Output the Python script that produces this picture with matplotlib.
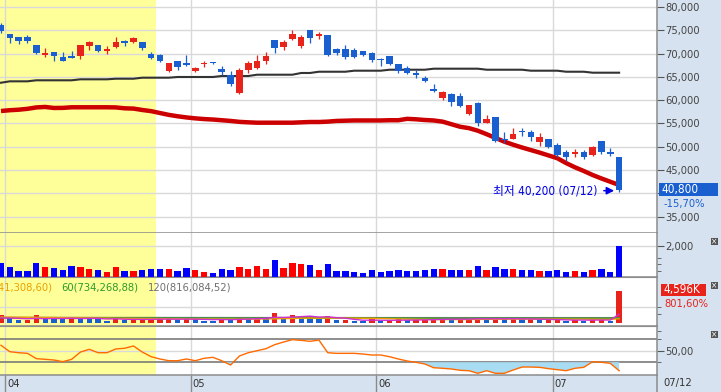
import numpy as np
import matplotlib
matplotlib.use("Agg")
import matplotlib.pyplot as plt
from matplotlib.patches import Rectangle
from matplotlib.lines import Line2D
from matplotlib import font_manager as fm

# pick a narrow font for digits if one is installed
_fl = fm.fontManager.ttflist
if any(f.name == 'Liberation Sans Narrow' for f in _fl):
    NUMFAM, NUMSTRETCH, FS = 'Liberation Sans Narrow', 'normal', 9.0
elif any(f.name == 'DejaVu Sans' and str(f.stretch).lower() in ('condensed', 'semi-condensed') for f in _fl):
    NUMFAM, NUMSTRETCH, FS = 'DejaVu Sans', 'condensed', 8.0
else:
    NUMFAM, NUMSTRETCH, FS = 'Roboto', 'normal', 8.0

plt.rcParams['font.family'] = [NUMFAM, 'Noto Sans CJK KR', 'DejaVu Sans']
plt.rcParams['font.stretch'] = NUMSTRETCH

# ---------------- data ----------------
opens = [76100, 74200, 73500, 73550, 71850, 69700, 70350, 69250, 69500, 69550,
         71650, 71850, 70500, 71400, 72700, 72500, 72500, 69900, 69700, 66270,
         68400, 67980, 66270, 67700, 68100, 66700, 65410, 61610, 66480, 66910,
         68400, 72920, 71420, 73130, 71630, 75060, 73800, 73990, 70990, 70990,
         70770, 70560, 70130, 68850, 69480, 67770, 66910, 65900, 64760, 62340,
         60410, 61330, 60900, 57040, 59330, 55170, 56460, 51670, 51740, 53400,
         53250, 51100, 51600, 50450, 48810, 48390, 48950, 48170, 51170, 48950,
         47880]
highs = [76500, 74200, 73500, 74000, 71850, 71150, 70450, 70350, 70550, 71850,
         72700, 71850, 71650, 73550, 72900, 73550, 72500, 70350, 69900, 67980,
         68400, 69700, 67120, 68480, 68200, 67330, 66270, 66910, 68400, 69700,
         70340, 72920, 72920, 75060, 73990, 75060, 74650, 73990, 71200, 71850,
         71200, 70560, 70340, 69050, 69480, 67770, 67340, 66400, 65190, 63480,
         62060, 61540, 61470, 59000, 59550, 56820, 56460, 53180, 54040, 54040,
         53600, 52900, 51700, 50750, 49300, 49490, 49400, 50170, 51310, 49680,
         47880]
lows = [74400, 72200, 72050, 72200, 69900, 69350, 68500, 68350, 68950, 68850,
        70750, 70340, 69900, 71200, 71650, 72300, 70800, 68850, 68200, 66050,
        66480, 67350, 66050, 67120, 67700, 65400, 63050, 61330, 65840, 66700,
        67770, 70130, 70770, 72920, 71200, 72270, 73130, 69480, 69700, 68840,
        69050, 69480, 68200, 67340, 67550, 65900, 65620, 64760, 63980, 61820,
        60040, 58750, 58610, 56820, 54530, 55040, 51100, 50880, 51600, 52320,
        51310, 50240, 49800, 47740, 47020, 47900, 47380, 48090, 48380, 48020,
        40200]
closes = [74900, 73400, 72700, 72700, 70200, 70100, 69550, 68400, 69050, 71850,
          72500, 70600, 71000, 72500, 72300, 73350, 71200, 69050, 68400, 67980,
          67120, 67550, 66900, 67900, 67900, 66050, 63540, 66480, 67980, 68400,
          69480, 71200, 72490, 74210, 73560, 73350, 74100, 69700, 70130, 69270,
          69270, 69700, 68630, 68600, 67770, 66330, 65900, 65470, 64190, 61900,
          61820, 59680, 58750, 58970, 55040, 56030, 51310, 51390, 52680, 53100,
          52040, 52040, 49890, 48300, 47880, 48950, 47740, 50020, 48810, 48390,
          40800]

ma_long = [63750, 64050, 64050, 64050, 64270, 64270, 64270, 64270, 64270, 64480,
           64480, 64480, 64480, 64610, 64610, 64610, 64830, 64830, 64830, 64830,
           64980, 64980, 64980, 64980, 64980, 65190, 65190, 65190, 65190, 65470,
           65470, 65470, 65470, 65470, 65840, 65840, 66110, 66110, 66110, 66110,
           66330, 66330, 66330, 66330, 66540, 66540, 66540, 66540, 66540, 66760,
           66760, 66760, 66760, 66760, 66760, 66540, 66540, 66540, 66540, 66540,
           66330, 66330, 66330, 66330, 66110, 66110, 66110, 65900, 65900, 65900,
           65900]
ma_mid = [57680, 57850, 57960, 58150, 58450, 58550, 58330, 58350, 58480, 58480,
          58480, 58480, 58480, 58450, 58260, 58200, 57900, 57650, 57250, 56850,
          56550, 56300, 56100, 55950, 55850, 55700, 55550, 55350, 55250, 55170,
          55170, 55170, 55170, 55170, 55250, 55320, 55320, 55400, 55550, 55600,
          55650, 55650, 55650, 55650, 55700, 55700, 56000, 55900, 55750, 55650,
          55400, 54850, 54300, 54000, 53450, 52700, 51900, 51100, 50450, 49850,
          49300, 48750, 48150, 47550, 46500, 45600, 44800, 43950, 43200, 42500,
          41800]

volume = [884, 626, 368, 368, 884, 626, 561, 432, 690, 626,
          497, 432, 303, 626, 368, 368, 432, 497, 497, 497,
          368, 561, 432, 303, 239, 497, 432, 626, 497, 690,
          497, 1077, 561, 884, 819, 755, 432, 819, 368, 368,
          303, 239, 432, 303, 368, 432, 368, 368, 432, 497,
          497, 432, 432, 432, 690, 432, 626, 497, 497, 432,
          432, 368, 368, 432, 303, 368, 303, 432, 497, 303,
          2000]

vol_k = [1150, 810, 480, 480, 1150, 810, 730, 560, 900, 810,
         650, 560, 390, 810, 480, 480, 560, 650, 650, 650,
         480, 730, 560, 390, 310, 650, 560, 810, 650, 900,
         650, 1400, 730, 1150, 1060, 980, 560, 1060, 480, 480,
         390, 310, 560, 390, 480, 560, 480, 480, 560, 650,
         650, 560, 560, 560, 900, 560, 810, 650, 650, 560,
         560, 480, 480, 560, 390, 480, 390, 560, 650, 390,
         4596]
ma5_k = [760, 740, 700, 650, 700, 660, 690, 680, 720, 680,
         700, 700, 620, 640, 580, 560, 560, 560, 590, 600,
         580, 600, 590, 560, 520, 540, 520, 560, 600, 660,
         700, 850, 830, 890, 950, 1020, 890, 920, 800, 720,
         560, 440, 450, 430, 420, 440, 450, 470, 490, 520,
         560, 580, 590, 590, 640, 630, 650, 640, 650, 640,
         620, 580, 560, 530, 490, 460, 460, 450, 470, 460,
         1300]
ma20_k = [880, 870, 860, 850, 840, 830, 820, 800, 790, 780,
          770, 750, 730, 710, 700, 690, 680, 670, 660, 650,
          640, 630, 620, 610, 600, 600, 590, 590, 600, 610,
          620, 640, 660, 690, 720, 740, 740, 750, 750, 740,
          730, 720, 700, 680, 650, 620, 600, 580, 560, 540,
          530, 530, 530, 540, 550, 560, 570, 580, 590, 590,
          590, 590, 600, 600, 600, 590, 590, 580, 570, 560,
          641]
ma60_k = [790, 788, 786, 784, 782, 780, 778, 776, 774, 772,
          770, 768, 766, 764, 762, 760, 758, 756, 754, 752,
          750, 748, 746, 744, 742, 740, 738, 736, 736, 736,
          738, 740, 742, 744, 746, 748, 748, 748, 746, 744,
          742, 740, 738, 736, 734, 732, 730, 728, 726, 724,
          722, 720, 720, 720, 720, 720, 720, 720, 720, 720,
          720, 720, 720, 720, 720, 720, 720, 720, 720, 720,
          734]
ma120_k = [840, 840, 838, 838, 836, 836, 834, 834, 832, 832,
           830, 830, 828, 828, 826, 826, 824, 824, 822, 822,
           820, 820, 818, 818, 816, 816, 814, 814, 812, 812,
           812, 812, 812, 814, 814, 814, 814, 814, 812, 812,
           812, 810, 810, 810, 808, 808, 808, 806, 806, 806,
           806, 804, 804, 804, 804, 804, 804, 804, 804, 804,
           804, 804, 804, 804, 804, 804, 804, 804, 804, 804,
           816]

rsi = [59.4, 48.3, 46.5, 45.4, 36.2, 35.0, 33.8, 30.9, 35.0, 47.7,
       52.4, 46.5, 46.5, 53.0, 54.2, 58.2, 47.7, 39.6, 35.6, 32.6,
       32.6, 35.6, 32.6, 36.8, 38.5, 32.6, 25.1, 40.8, 46.5, 50.0,
       53.5, 60.5, 65.1, 69.2, 68.0, 66.3, 68.6, 46.5, 45.4, 45.4,
       45.4, 44.2, 42.5, 42.5, 39.6, 35.6, 32.1, 29.8, 26.9, 20.4,
       19.4, 18.2, 15.9, 15.2, 10.7, 15.2, 10.7, 10.7, 16.4, 21.6,
       21.6, 21.1, 18.8, 17.0, 15.2, 19.4, 21.1, 30.9, 29.8, 28.1,
       15.2]

price_ticks = [35000, 40000, 45000, 50000, 55000, 60000, 65000, 70000, 75000, 80000]
month_pos = [0.5, 21.5, 42.5, 62.5]
month_labels = ['04', '05', '06', '07']
last_date = '07/12'
low_note = '최저 40,200 (07/12)'
last_price = '40,800'
last_change = '-15,70%'
last_volume = '4,596K'
vol_ratio = '801,60%'
legend_items = [('20(641,308,60)', '#e8a000'), ('60(734,268,88)', '#2a9a2a'),
                ('120(816,084,52)', '#707070')]

# ---------------- figure ----------------
W, H = 721, 392
fig = plt.figure(figsize=(W / 100, H / 100), dpi=100, facecolor='#d6e2ef')
PW = 657 / W
n = len(closes)
x = np.arange(n)
o = np.array(opens); c = np.array(closes)
hi = np.array(highs); lo = np.array(lows)
up = c >= o
RED, BLUE = '#e8231b', '#1a5fd0'
ccol = np.where(up, RED, BLUE)
GRID = '#d9d9d9'
SPINE = '#8c8c8c'
XL = (-0.113, 74.29)


def panel(top, bottom):
    ax = fig.add_axes([0, 1 - bottom / H, PW, (bottom - top) / H])
    ax.set_facecolor('white')
    ax.set_xlim(*XL)
    ax.axvspan(XL[0] - 1, 17.5, color='#ffff99', zorder=0, lw=0)
    for m in month_pos:
        ax.axvline(m, color=GRID, lw=1, zorder=0.5)
    ax.set_xticks([])
    for s in ['left', 'top']:
        ax.spines[s].set_visible(False)
    for s in ['right', 'bottom']:
        ax.spines[s].set_color(SPINE)
        ax.spines[s].set_linewidth(1.1)
    ax.yaxis.tick_right()
    ax.tick_params(axis='y', which='both', direction='out', color='#555555',
                   labelsize=FS, labelcolor='#444444', pad=1)
    ax.tick_params(axis='y', which='major', length=5)
    ax.tick_params(axis='y', which='minor', length=3)
    return ax


# main price panel
ax1 = panel(0, 233)
ax1.set_ylim(31500, 81502)
for p in price_ticks:
    ax1.axhline(p, color=GRID, lw=1, zorder=0.5)
ax1.set_yticks(price_ticks)
# the 40,000 label sits under the current-price box, as in the source chart
ax1.set_yticklabels(['' if p == 40000 else f'{p:,}' for p in price_ticks])
ax1.vlines(x, lo, hi, colors=ccol, lw=0.9, zorder=3)
ax1.bar(x, np.maximum(np.abs(c - o), 120), bottom=np.minimum(o, c), width=0.74,
        color=ccol, zorder=3, lw=0)
ax1.plot(x, ma_long, color='#333333', lw=1.5, zorder=2)
ax1.plot(x, ma_mid, color='#cc0000', lw=3.2, zorder=2, solid_capstyle='butt')
ax1.text(67.5, 40580, low_note, ha='right', va='center', color='#0000e6',
         fontsize=FS + 0.5, zorder=5)
ax1.annotate('', xy=(69.75, 40580), xytext=(67.95, 40580),
             arrowprops=dict(arrowstyle='-|>', color='#0000e6', lw=1.1,
                             mutation_scale=11), zorder=5)

# volume panel
ax2 = panel(233, 277)
ax2.set_ylim(-19, 2819)
ax2.axhline(2000, color=GRID, lw=1, zorder=0.5)
vcol = np.where(up, '#ff0000', '#0000ff')
ax2.bar(x, volume, width=0.72, color=vcol, zorder=3, lw=0)
ax2.set_yticks([2000])
ax2.set_yticklabels(['2,000'])
ax2.set_yticks([400, 800, 1200], minor=True)

# volume (K) panel with averages
ax3 = panel(277, 326)
ax3.set_ylim(-384, 6588)
ax3.axhline(2360, color=GRID, lw=1, zorder=0.5)
vk = np.array(vol_k)
kcol = [RED] + [RED if vk[i] >= vk[i - 1] else BLUE for i in range(1, n)]
ax3.bar(x, vk, width=0.6, color=kcol, zorder=3, lw=0)
ax3.plot(x, ma120_k, color='#808080', lw=1, zorder=4)
ax3.plot(x, ma60_k, color='#2a9a2a', lw=1, zorder=4)
ax3.plot(x, ma20_k, color='#f0a000', lw=1, zorder=4)
ax3.plot(x, ma5_k, color='#d030d0', lw=1, zorder=4)
ax3.set_yticks([])
ax3.set_yticks([1280, 2360], minor=True)
ax3.spines['top'].set_visible(True)
ax3.spines['top'].set_color(SPINE)
lx = [52, 61, 148]
for (t, col), px in zip(legend_items, lx):
    ax3.text(px / 657, 1 - 10 / 49, t, transform=ax3.transAxes,
             ha='right' if px == 52 else 'left', va='center', color=col,
             fontsize=FS, zorder=6)

# oscillator panel
ax4 = panel(326, 375)
ax4.set_ylim(7.74, 92.96)
r = np.array(rsi)
ax4.axhline(50, color=GRID, lw=1, zorder=0.5)
ax4.axhline(70, color='#7a7a7a', lw=1.2, zorder=1)
ax4.axhline(30, color='#7a7a7a', lw=1.2, zorder=1)
ax4.fill_between(x, r, 30, where=r < 30, interpolate=True, color='#a8dcf2',
                 zorder=2, lw=0)
ax4.plot(x, r, color='#ff6a00', lw=1, zorder=3)
ax4.set_yticks([50])
ax4.set_yticklabels(['50,00'])
ax4.set_yticks([30, 70, 85], minor=True)
ax4.spines['top'].set_visible(True)
ax4.spines['top'].set_color(SPINE)

# date strip
axd = fig.add_axes([0, 0, PW, 17 / H])
axd.set_xlim(*XL)
axd.set_ylim(0, 1)
axd.axis('off')
axd.vlines(month_pos, 0, 1, color='#8a8a8a', lw=1)
for m, lab in zip(month_pos, month_labels):
    axd.text(m + 0.2, 0.48, lab, ha='left', va='center', fontsize=FS, color='#333333')
fig.text(663 / W, 1 - 383 / H, last_date, ha='left', va='center', fontsize=FS,
         color='#333333')
fig.add_artist(Line2D([PW, PW], [0, 17 / H], transform=fig.transFigure,
                      color=SPINE, lw=1.1))

# right side labels
fig.add_artist(Rectangle((659 / W, 1 - 196 / H), 59 / W, 13 / H,
                         transform=fig.transFigure, facecolor='#1a5fd0',
                         edgecolor='none', zorder=3))
fig.text(662 / W, 1 - 189.5 / H, last_price, ha='left', va='center', fontsize=FS + 0.5,
         color='white', zorder=4)
fig.text(664 / W, 1 - 204 / H, last_change, ha='left', va='center', fontsize=FS,
         color='#1a5fd0', zorder=4)
fig.add_artist(Rectangle((661 / W, 1 - 296 / H), 45 / W, 12 / H,
                         transform=fig.transFigure, facecolor='#e8231b',
                         edgecolor='none', zorder=3))
fig.text(663 / W, 1 - 290 / H, last_volume, ha='left', va='center', fontsize=FS + 0.5,
         color='white', zorder=4)
fig.text(664 / W, 1 - 303.5 / H, vol_ratio, ha='left', va='center', fontsize=FS,
         color='#e8231b', zorder=4)

# panel close buttons
for yb in [238, 282, 331]:
    fig.add_artist(Rectangle((711 / W, 1 - (yb + 7) / H), 7 / W, 7 / H,
                             transform=fig.transFigure, facecolor='#555555',
                             edgecolor='none', zorder=3))
    fig.text(714.5 / W, 1 - (yb + 3.6) / H, '×', ha='center', va='center',
             fontsize=6, color='white', zorder=4, family='DejaVu Sans')

fig.savefig('out.png', dpi=100, facecolor=fig.get_facecolor())
